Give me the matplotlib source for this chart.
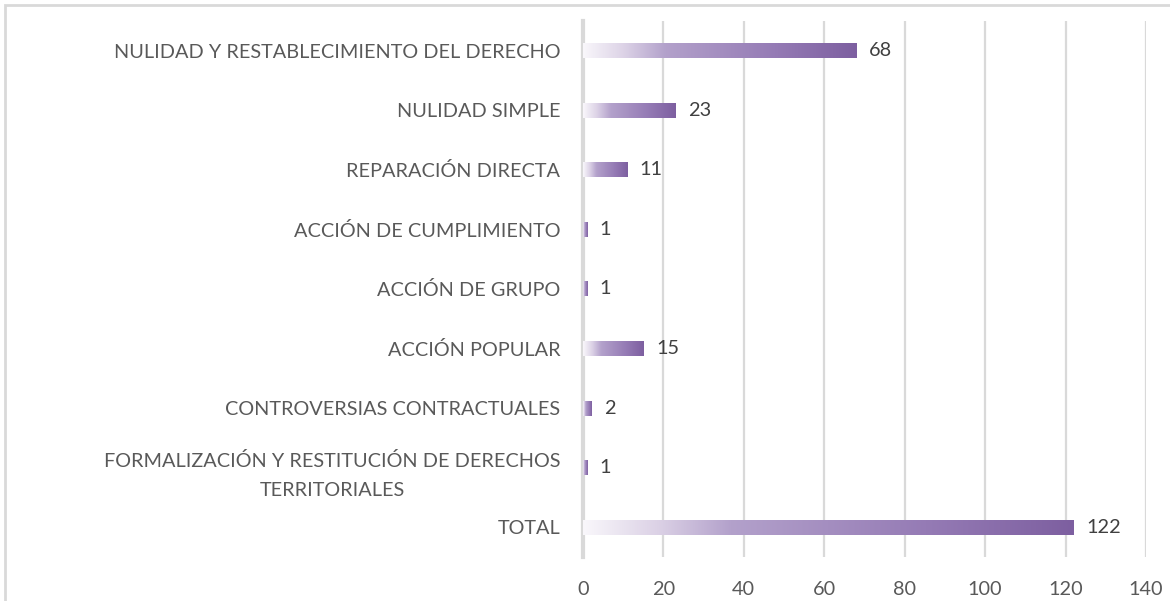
import numpy as np
import matplotlib.pyplot as plt
from matplotlib.colors import LinearSegmentedColormap
from matplotlib.patches import Rectangle

categories = [
    "NULIDAD Y RESTABLECIMIENTO DEL DERECHO",
    "NULIDAD SIMPLE",
    "REPARACIÓN DIRECTA",
    "ACCIÓN DE CUMPLIMIENTO",
    "ACCIÓN DE GRUPO",
    "ACCIÓN POPULAR",
    "CONTROVERSIAS CONTRACTUALES",
    "FORMALIZACIÓN Y RESTITUCIÓN DE DERECHOS\nTERRITORIALES",
    "TOTAL",
]
values = [68, 23, 11, 1, 1, 15, 2, 1, 122]
x_ticks = [0, 20, 40, 60, 80, 100, 120, 140]

C_GRID = "#D9D9D9"
C_TEXT = "#595959"
C_VAL = "#404040"
FS = 14.3

grad = LinearSegmentedColormap.from_list(
    "purple_grad",
    [(0.0, "#F9F7FB"), (0.15, "#DCD2E6"), (0.3, "#B3A1CB"),
     (0.7, "#957BB5"), (1.0, "#7D5FA0")],
)

plt.rcParams["font.family"] = ["Lato", "DejaVu Sans"]

fig = plt.figure(figsize=(11.7, 6.01), dpi=100)
ax = fig.add_axes([0.498, 0.0732, 0.4815, 0.892])

n = len(categories)
ypos = np.arange(n)
bar_h = 0.25

# invisible bars define the geometry, gradients are painted on top
bars = ax.barh(ypos, values, height=bar_h, color="none", zorder=2)
g = np.linspace(0, 1, 256).reshape(1, -1)
for bar, val in zip(bars, values):
    y0 = bar.get_y()
    ax.imshow(g, cmap=grad, aspect="auto", zorder=3,
              extent=(0, val, y0 + bar_h, y0), interpolation="bicubic")
    ax.text(val + 3.2, bar.get_y() + bar_h / 2, f"{val}",
            ha="left", va="center", fontsize=FS, color=C_VAL)

ax.set_xlim(0, 140)
ax.set_ylim(n - 0.5, -0.5)
ax.set_xticks(x_ticks)
ax.set_xticklabels([str(t) for t in x_ticks], fontsize=FS, color=C_TEXT)
ax.set_yticks(ypos)
ax.set_yticklabels(categories, fontsize=FS, color=C_TEXT, ha="right",
                   multialignment="center", linespacing=1.9)
ax.tick_params(axis="both", length=0)
ax.tick_params(axis="y", pad=16)
ax.tick_params(axis="x", pad=17)

ax.grid(axis="x", color=C_GRID, linewidth=1.6, zorder=0)
ax.set_axisbelow(True)
for s in ["top", "right", "bottom"]:
    ax.spines[s].set_visible(False)
ax.spines["left"].set_color(C_GRID)
ax.spines["left"].set_linewidth(3.0)
ax.spines["left"].set_zorder(1)

# chart-area border (only top and left edges fall inside the crop)
fig.patches.append(Rectangle((5 / 1170, -0.1), 1.2, 1 - 5 / 601 + 0.1,
                             transform=fig.transFigure, fill=False,
                             edgecolor=C_GRID, linewidth=2.0))

fig.savefig("out.png", dpi=100)
